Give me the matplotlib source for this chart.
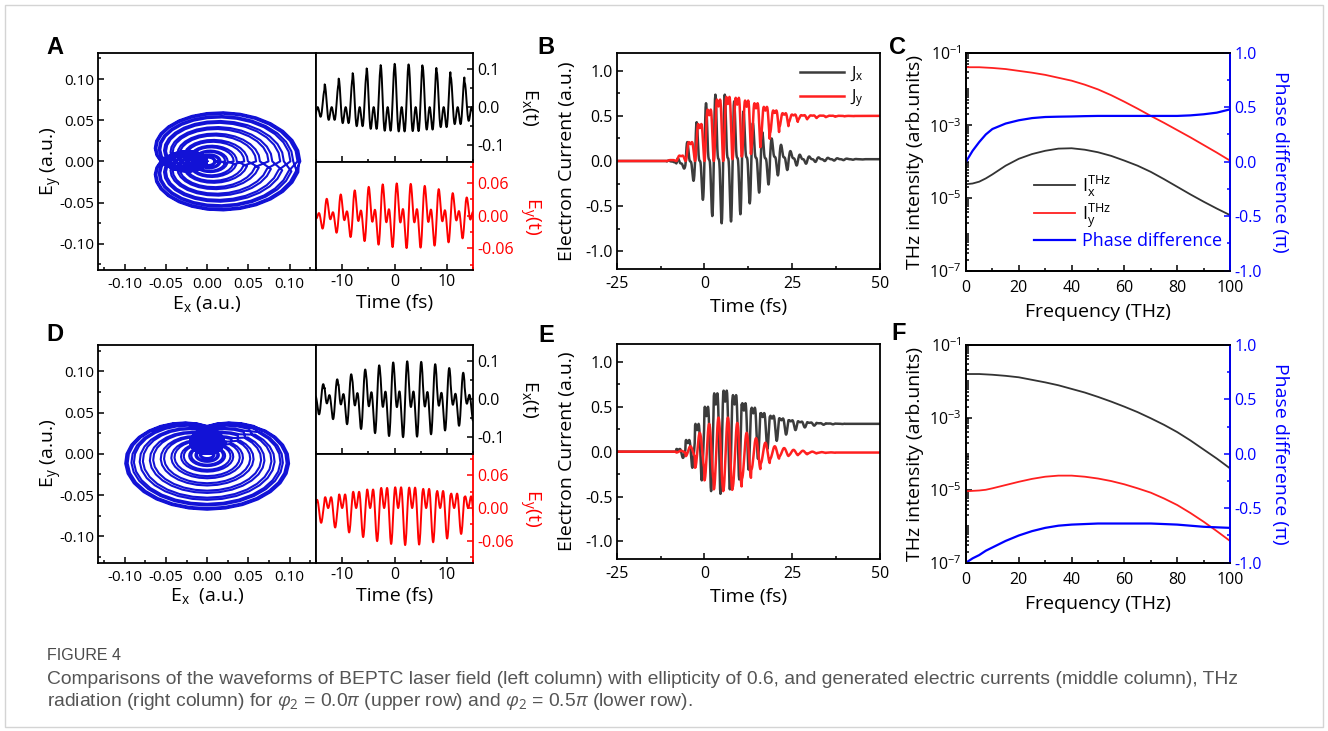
import numpy as np
import matplotlib
matplotlib.use("Agg")
import matplotlib.pyplot as plt
from matplotlib.ticker import (MultipleLocator, FixedLocator, LogLocator,
                               NullFormatter, FormatStrFormatter, FuncFormatter)
from matplotlib.patches import Rectangle

W, H = 1328, 731

plt.rcParams['font.family'] = ['Open Sans', 'DejaVu Sans']
plt.rcParams['mathtext.fontset'] = 'custom'
plt.rcParams['mathtext.rm'] = 'Open Sans'
plt.rcParams['mathtext.it'] = 'Open Sans:italic'
plt.rcParams['mathtext.bf'] = 'Open Sans:bold'
plt.rcParams['axes.unicode_minus'] = False

LISSA_BLUE = '#1212d6'
BLUE = '#0000ff'
RED = '#ff2020'
DARK = '#3c3c3c'

# ---------------- laser field (left column) ----------------
PERIOD_FS = 2.67        # fundamental optical cycle (fs)
FIELD_SAMPLES = 48      # field samples per optical cycle (7.5 deg steps)
CURRENT_SAMPLES = 24    # current samples per optical cycle (15 deg steps)
ELLIPTICITY = 0.6

field_cycles = np.arange(-10, 11)
# single-colour field amplitude of each optical cycle (a.u.)
field_amp = [0.0043, 0.0070, 0.0109, 0.0161, 0.0225, 0.0297, 0.0372, 0.0443, 0.0505, 0.0548,
             0.0565,
             0.0557, 0.0522, 0.0465, 0.0395, 0.0320, 0.0247, 0.0180, 0.0124, 0.0081, 0.0051]

# waveform of one optical cycle, in units of the single-colour amplitude
cycle_ex_phi00 = [2.000, 1.957, 1.832, 1.631, 1.366, 1.052, 0.707, 0.350, 0.000, -0.324, -0.607, -0.835,
                  -1.000, -1.096, -1.125, -1.090, -1.000, -0.868, -0.707, -0.535, -0.366, -0.217, -0.100, -0.026,
                  0.000, -0.026, -0.100, -0.217, -0.366, -0.535, -0.707, -0.868, -1.000, -1.090, -1.125, -1.096,
                  -1.000, -0.835, -0.607, -0.324, 0.000, 0.350, 0.707, 1.052, 1.366, 1.631, 1.832, 1.957]
cycle_ey_phi00 = [0.000, 0.389, 0.759, 1.090, 1.366, 1.575, 1.707, 1.759, 1.732, 1.631, 1.466, 1.250,
                  1.000, 0.733, 0.466, 0.217, 0.000, -0.173, -0.293, -0.357, -0.366, -0.324, -0.241, -0.128,
                  0.000, 0.128, 0.241, 0.324, 0.366, 0.357, 0.293, 0.173, 0.000, -0.217, -0.466, -0.733,
                  -1.000, -1.250, -1.466, -1.631, -1.732, -1.759, -1.707, -1.575, -1.366, -1.090, -0.759, -0.389]
cycle_ex_phi05 = [1.000, 0.733, 0.466, 0.217, 0.000, -0.173, -0.293, -0.357, -0.366, -0.324, -0.241, -0.128,
                  0.000, 0.128, 0.241, 0.324, 0.366, 0.357, 0.293, 0.173, 0.000, -0.217, -0.466, -0.733,
                  -1.000, -1.250, -1.466, -1.631, -1.732, -1.759, -1.707, -1.575, -1.366, -1.090, -0.759, -0.389,
                  0.000, 0.389, 0.759, 1.090, 1.366, 1.575, 1.707, 1.759, 1.732, 1.631, 1.466, 1.250]
cycle_ey_phi05 = [1.000, 1.096, 1.125, 1.090, 1.000, 0.868, 0.707, 0.535, 0.366, 0.217, 0.100, 0.026,
                  0.000, 0.026, 0.100, 0.217, 0.366, 0.535, 0.707, 0.868, 1.000, 1.090, 1.125, 1.096,
                  1.000, 0.835, 0.607, 0.324, 0.000, -0.350, -0.707, -1.052, -1.366, -1.631, -1.832, -1.957,
                  -2.000, -1.957, -1.832, -1.631, -1.366, -1.052, -0.707, -0.350, 0.000, 0.324, 0.607, 0.835]

# ---------------- electron currents (middle column) ----------------
current_cycles = np.arange(-10, 19)
# normalised in-cycle current shapes (0 = lowest, 1 = highest value of the cycle)
spike_shape = [0.500, 0.696, 0.859, 0.965, 1.000, 0.968, 0.885, 0.776, 0.667, 0.580, 0.526, 0.504,
               0.500, 0.496, 0.474, 0.420, 0.333, 0.224, 0.115, 0.032, 0.000, 0.035, 0.141, 0.304]
dip_shape = [0.000, 0.045, 0.171, 0.352, 0.556, 0.744, 0.889, 0.974, 1.000, 0.981, 0.940, 0.904,
             0.889, 0.904, 0.940, 0.981, 1.000, 0.974, 0.889, 0.744, 0.556, 0.352, 0.171, 0.045]
swing_shape = [0.000, 0.017, 0.067, 0.146, 0.250, 0.371, 0.500, 0.629, 0.750, 0.854, 0.933, 0.983,
               1.000, 0.983, 0.933, 0.854, 0.750, 0.629, 0.500, 0.371, 0.250, 0.146, 0.067, 0.017]
DIP_OFFSET_E = 17   # sample at which the J_x dip occurs for phi2 = 0.5 pi

Z6 = [0.0] * 6
# phi2 = 0.0 pi : per-cycle high / low values
jx_hi_b = Z6 + [0.005, 0.03, 0.21, 0.43, 0.64, 0.735, 0.735, 0.66, 0.55, 0.42, 0.32, 0.25, 0.18, 0.11,
                0.07, 0.05, 0.04, 0.035, 0.03, 0.026, 0.022, 0.02, 0.02]
jx_lo_b = Z6 + [-0.015, -0.084, -0.22, -0.43, -0.61, -0.69, -0.67, -0.59, -0.47, -0.35, -0.26, -0.16,
                -0.10, -0.05, -0.03, -0.01, 0.0, 0.005, 0.01, 0.014, 0.017, 0.02, 0.02]
jy_hi_b = Z6 + [0.01, 0.06, 0.21, 0.41, 0.57, 0.68, 0.71, 0.70, 0.67, 0.64, 0.60, 0.56, 0.53, 0.515,
                0.508, 0.505, 0.503, 0.502, 0.501, 0.50, 0.50, 0.50, 0.50]
jy_lo_b = Z6 + [0.0, 0.0, 0.0, 0.0, 0.0, 0.0, 0.0, 0.02, 0.05, 0.13, 0.23, 0.31, 0.38, 0.43,
                0.46, 0.475, 0.485, 0.49, 0.494, 0.497, 0.499, 0.5, 0.5]
# phi2 = 0.5 pi
jx_hi_e = Z6 + [0.0, 0.03, 0.13, 0.31, 0.50, 0.65, 0.68, 0.63, 0.54, 0.49, 0.43, 0.40, 0.37, 0.35,
                0.335, 0.325, 0.318, 0.314, 0.312, 0.31, 0.31, 0.31, 0.31]
jx_lo_e = Z6 + [0.0, -0.07, -0.18, -0.32, -0.44, -0.47, -0.42, -0.31, -0.20, -0.08, 0.03, 0.12, 0.19,
                0.24, 0.27, 0.29, 0.30, 0.305, 0.308, 0.31, 0.31, 0.31, 0.31]
jy_hi_e = Z6 + [0.0, 0.01, 0.06, 0.21, 0.31, 0.38, 0.38, 0.32, 0.21, 0.15, 0.10, 0.06, 0.04, 0.02,
                0.01, 0.0, -0.005, -0.008, -0.01, -0.01, -0.01, -0.01, -0.01]
jy_lo_e = Z6 + [0.0, -0.01, -0.05, -0.18, -0.32, -0.42, -0.44, -0.40, -0.30, -0.20, -0.13, -0.08, -0.05,
                -0.04, -0.03, -0.02, -0.015, -0.012, -0.01, -0.01, -0.01, -0.01, -0.01]

# ---------------- THz spectra (right column) ----------------
freq_thz = [0, 2.5, 5, 7.5, 10, 15, 20, 25, 30, 35, 40, 45, 50, 55, 60, 65, 70, 75, 80, 85, 90, 95, 100]
log_ix_c = [-4.62, -4.60, -4.55, -4.46, -4.35, -4.11, -3.92, -3.79, -3.70, -3.64, -3.63, -3.67, -3.74,
            -3.84, -3.97, -4.11, -4.28, -4.48, -4.69, -4.90, -5.10, -5.29, -5.47]
log_iy_c = [-1.40, -1.40, -1.40, -1.41, -1.42, -1.45, -1.50, -1.55, -1.61, -1.69, -1.77, -1.88, -2.01,
            -2.17, -2.35, -2.54, -2.74, -2.93, -3.13, -3.33, -3.54, -3.75, -3.97]
phase_c = [0.00, 0.10, 0.18, 0.25, 0.30, 0.35, 0.38, 0.40, 0.41, 0.413, 0.415, 0.418, 0.42, 0.42, 0.42,
           0.42, 0.42, 0.42, 0.42, 0.425, 0.435, 0.45, 0.48]
log_ix_f = [-1.80, -1.80, -1.80, -1.81, -1.82, -1.85, -1.89, -1.96, -2.03, -2.11, -2.21, -2.31, -2.43,
            -2.56, -2.70, -2.85, -3.02, -3.20, -3.40, -3.63, -3.88, -4.13, -4.40]
log_iy_f = [-5.03, -5.02, -5.01, -4.99, -4.95, -4.86, -4.77, -4.69, -4.63, -4.60, -4.60, -4.63, -4.68,
            -4.75, -4.84, -4.95, -5.07, -5.23, -5.41, -5.63, -5.87, -6.13, -6.40]
phase_f = [-1.00, -0.96, -0.93, -0.89, -0.86, -0.80, -0.75, -0.71, -0.68, -0.66, -0.65, -0.645, -0.64,
           -0.64, -0.64, -0.64, -0.64, -0.645, -0.65, -0.66, -0.67, -0.675, -0.68]


def cycle_times(cycles, n):
    c = np.asarray(cycles, float)[:, None]
    j = np.arange(n)[None, :] / n
    return ((c + j) * PERIOD_FS).ravel()


def field_series(amp, shape, scale=1.0):
    return scale * (np.asarray(amp)[:, None] * np.asarray(shape)[None, :]).ravel()


def current_series(lo, hi, shape):
    lo = np.asarray(lo)[:, None]
    hi = np.asarray(hi)[:, None]
    return (lo + (hi - lo) * np.asarray(shape)[None, :]).ravel()


fig = plt.figure(figsize=(W / 100, H / 100), dpi=100, facecolor='white')


def px_axes(left, top, right, bottom):
    return fig.add_axes([left / W, 1 - bottom / H, (right - left) / W, (bottom - top) / H])


def style(ax, labelsize=11.5):
    for sp in ax.spines.values():
        sp.set_linewidth(1.3)
    ax.tick_params(which='both', direction='in', width=1.1, labelsize=labelsize, pad=3)
    ax.tick_params(which='major', length=4.5)
    ax.tick_params(which='minor', length=2.5)


LAB = 14

t_field = cycle_times(field_cycles, FIELD_SAMPLES)
t_cur = cycle_times(current_cycles, CURRENT_SAMPLES)
tick2 = FormatStrFormatter('%.2f')


def field_row(top, bottom, mid, cyc_x, cyc_y, letter, letter_y, ex_label):
    ex = field_series(field_amp, cyc_x)
    ey = field_series(field_amp, cyc_y, ELLIPTICITY)

    ax = px_axes(98.3, top, 316, bottom)
    ax.plot(ex, ey, color=LISSA_BLUE, lw=1.5)
    ax.set_xlim(-0.132, 0.132)
    ax.set_ylim(-0.132, 0.132)
    ax.xaxis.set_major_locator(MultipleLocator(0.05))
    ax.yaxis.set_major_locator(MultipleLocator(0.05))
    ax.xaxis.set_minor_locator(MultipleLocator(0.025))
    ax.yaxis.set_minor_locator(MultipleLocator(0.025))
    ax.xaxis.set_major_formatter(tick2)
    ax.yaxis.set_major_formatter(tick2)
    style(ax, 11)
    ax.tick_params(axis='x', pad=5)
    ax.set_xlabel(ex_label, fontsize=LAB, va='center')
    ax.set_ylabel(r'E$_\mathregular{y}$ (a.u.)', fontsize=LAB, va='center')
    ax.xaxis.set_label_coords(0.5, -0.155)
    ax.yaxis.set_label_coords(-0.215, 0.5)

    axt = px_axes(316, top, 473.3, mid)
    axb = px_axes(316, mid, 473.3, bottom)
    axt.plot(t_field, ex, color='black', lw=1.4)
    axb.plot(t_field, ey, color='#ff0000', lw=1.4)
    for a in (axt, axb):
        a.set_xlim(-15, 15)
        a.xaxis.set_major_locator(MultipleLocator(10))
        a.xaxis.set_minor_locator(MultipleLocator(5))
        style(a)
        a.yaxis.tick_right()
        a.yaxis.set_label_position('right')
        a.tick_params(axis='y', which='both', left=False, right=True)
    axt.set_ylim(-0.142, 0.142)
    axt.yaxis.set_major_locator(FixedLocator([-0.1, 0.0, 0.1]))
    axt.yaxis.set_major_formatter(FormatStrFormatter('%.1f'))
    axt.yaxis.set_minor_locator(MultipleLocator(0.05))
    axt.tick_params(axis='x', labelbottom=False)
    axt.set_ylabel(r'E$_\mathregular{x}$(t)', fontsize=LAB, rotation=270, va='center', ha='center')
    axt.yaxis.set_label_coords(1.36, 0.5)

    axb.set_ylim(-0.1, 0.1)
    axb.yaxis.set_major_locator(FixedLocator([-0.06, 0.0, 0.06]))
    axb.yaxis.set_major_formatter(FormatStrFormatter('%.2f'))
    axb.yaxis.set_minor_locator(MultipleLocator(0.03))
    axb.spines['right'].set_color('#ff0000')
    axb.tick_params(axis='y', which='both', colors='#ff0000')
    axb.set_ylabel(r'E$_\mathregular{y}$(t)', fontsize=LAB, rotation=270, va='center', ha='center',
                   color='#ff0000')
    axb.yaxis.set_label_coords(1.36, 0.5)
    axb.set_xlabel('Time (fs)', fontsize=LAB, va='center')
    axb.xaxis.set_label_coords(0.5, -0.305)
    fig.text(55 / W, 1 - letter_y / H, letter, fontsize=17, fontweight='bold',
             family='Liberation Sans', ha='center', va='center')


def current_panel(top, bottom, jx, jy, letter, letter_y, legend):
    ax = px_axes(616.7, top, 880, bottom)
    lx, = ax.plot(t_cur, jx, color=DARK, lw=1.8, label=r'J$_\mathregular{x}$')
    ly, = ax.plot(t_cur, jy, color=RED, lw=1.8, label=r'J$_\mathregular{y}$')
    ax.set_xlim(-25, 50)
    ax.set_ylim(-1.2, 1.2)
    ax.xaxis.set_major_locator(MultipleLocator(25))
    ax.xaxis.set_minor_locator(MultipleLocator(12.5))
    ax.yaxis.set_major_locator(MultipleLocator(0.5))
    ax.yaxis.set_minor_locator(MultipleLocator(0.25))
    ax.yaxis.set_major_formatter(FormatStrFormatter('%.1f'))
    style(ax)
    ax.tick_params(axis='x', pad=5)
    ax.set_xlabel('Time (fs)', fontsize=LAB, va='center')
    ax.set_ylabel('Electron Current (a.u.)', fontsize=LAB, va='center')
    ax.xaxis.set_label_coords(0.5, -0.175)
    ax.yaxis.set_label_coords(-0.19, 0.5)
    if legend:
        ax.legend(handles=[lx, ly], loc='upper right', bbox_to_anchor=(0.965, 0.975), frameon=False,
                  fontsize=12, handlelength=2.6, handletextpad=0.4, labelspacing=0.25, borderaxespad=0)
    fig.text(546 / W, 1 - letter_y / H, letter, fontsize=17, fontweight='bold',
             family='Liberation Sans', ha='center', va='center')


def log_fmt(v, pos):
    return r'10$^{\mathregular{%d}}$' % int(round(np.log10(v)))


def spectrum_panel(top, bottom, lix, liy, phase, letter, letter_xy, legend):
    ax = px_axes(966, top, 1230, bottom)
    f = np.asarray(freq_thz)
    h1, = ax.plot(f, 10.0 ** np.asarray(lix), color='#333333', lw=1.3,
                  label=r'I$_\mathregular{x}^\mathregular{THz}$')
    h2, = ax.plot(f, 10.0 ** np.asarray(liy), color=RED, lw=1.3,
                  label=r'I$_\mathregular{y}^\mathregular{THz}$')
    ax.set_yscale('log')
    ax.set_ylim(1e-7, 1e-1)
    ax.set_xlim(0, 100)
    ax.yaxis.set_major_locator(FixedLocator([1e-7, 1e-5, 1e-3, 1e-1]))
    ax.yaxis.set_major_formatter(FuncFormatter(log_fmt))
    ax.yaxis.set_minor_locator(LogLocator(base=10, subs=np.arange(1, 10), numticks=30))
    ax.yaxis.set_minor_formatter(NullFormatter())
    ax.xaxis.set_major_locator(MultipleLocator(20))
    ax.xaxis.set_minor_locator(MultipleLocator(10))
    style(ax)
    ax.tick_params(axis='y', which='both', right=False)
    ax.tick_params(axis='x', pad=7)
    ax.set_xlabel('Frequency (THz)', fontsize=LAB, va='center')
    ax.set_ylabel('THz intensity (arb.units)', fontsize=LAB, va='center')
    ax.xaxis.set_label_coords(0.5, -0.19)
    ax.yaxis.set_label_coords(-0.195, 0.5)

    ax2 = ax.twinx()
    h3, = ax2.plot(f, phase, color=BLUE, lw=1.6, label='Phase difference')
    ax2.set_ylim(-1, 1)
    ax2.yaxis.set_major_locator(MultipleLocator(0.5))
    ax2.yaxis.set_minor_locator(MultipleLocator(0.25))
    ax2.yaxis.set_major_formatter(FormatStrFormatter('%.1f'))
    style(ax2)
    ax2.spines['right'].set_color(BLUE)
    ax2.tick_params(axis='y', which='both', colors=BLUE)
    ax2.set_ylabel('Phase difference (\u03c0)', fontsize=LAB, rotation=270, va='center', ha='center',
                   color=BLUE)
    ax2.yaxis.set_label_coords(1.19, 0.5)
    if legend:
        leg = ax2.legend(handles=[h1, h2, h3], loc='lower left', bbox_to_anchor=(0.23, 0.06),
                         frameon=False, fontsize=13, handlelength=2.3, handletextpad=0.35,
                         labelspacing=0.15, borderaxespad=0)
        leg.get_texts()[2].set_color(BLUE)
    fig.text(letter_xy[0] / W, 1 - letter_xy[1] / H, letter, fontsize=17, fontweight='bold',
             family='Liberation Sans', ha='center', va='center')


# row 1: phi2 = 0.0 pi
field_row(52.7, 270, 161.5, cycle_ex_phi00, cycle_ey_phi00, 'A', 48, r'E$_\mathregular{x}$ (a.u.)')
current_panel(52.7, 269.3,
              current_series(jx_lo_b, jx_hi_b, spike_shape),
              current_series(jy_lo_b, jy_hi_b, dip_shape), 'B', 48, True)
spectrum_panel(52.7, 270.7, log_ix_c, log_iy_c, phase_c, 'C', (897, 47), True)

# row 2: phi2 = 0.5 pi
field_row(345, 562.7, 453.5, cycle_ex_phi05, cycle_ey_phi05, 'D', 335, r'E$_\mathregular{x}$  (a.u.)')
current_panel(344, 559.3,
              current_series(jx_lo_e, jx_hi_e, np.roll(dip_shape, DIP_OFFSET_E)),
              current_series(jy_lo_e, jy_hi_e, swing_shape), 'E', 336, False)
spectrum_panel(345, 562.7, log_ix_f, log_iy_f, phase_f, 'F', (899, 334), False)

# caption
cap_font = ['Liberation Sans Narrow', 'Liberation Sans', 'DejaVu Sans']
fig.text(47 / W, 1 - 656 / H, 'FIGURE 4', fontsize=11.5, color='#4a4a4a', family=cap_font,
         ha='left', va='center')
fig.text(47 / W, 1 - 679 / H,
         'Comparisons of the waveforms of BEPTC laser field (left column) with ellipticity of 0.6, and '
         'generated electric currents (middle column), THz',
         fontsize=13.9, color='#555555', family=cap_font, ha='left', va='center')
fig.text(47 / W, 1 - 701 / H,
         r'radiation (right column) for $\varphi_2$ = 0.0$\pi$ (upper row) and $\varphi_2$ = 0.5$\pi$ (lower row).',
         fontsize=13.9, color='#555555', family=cap_font, ha='left', va='center')

fig.patches.append(Rectangle((5 / W, 4 / H), 1318 / W, 722 / H, transform=fig.transFigure,
                             fill=False, edgecolor='#d4d4d4', lw=1.0))

fig.savefig('out.png', dpi=100, facecolor='white')
